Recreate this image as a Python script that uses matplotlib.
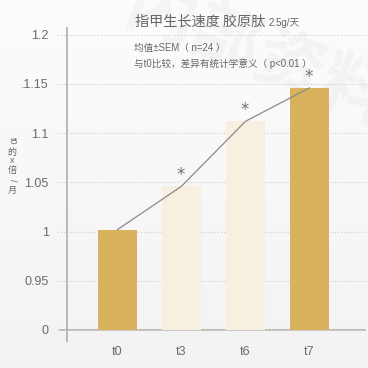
import numpy as np
import matplotlib
matplotlib.use("Agg")
import matplotlib.pyplot as plt

plt.rcParams['font.family'] = ['Liberation Sans', 'Noto Sans CJK SC', 'DejaVu Sans']

categories = ["t0", "t3", "t6", "t7"]
values = [1.002, 1.046, 1.112, 1.146]
bar_colors = ["#D8B25C", "#F7EFDF", "#F7EFDF", "#D8B25C"]
significant = [False, True, True, True]
ytick_values = [0, 0.95, 1.0, 1.05, 1.1, 1.15, 1.2]
ytick_labels = ["0", "0.95", "1", "1.05", "1.1", ".1.15", "1.2"]

title = "指甲生长速度 胶原肽"
title_unit = "2.5g/天"
note1 = "均值±SEM（ n=24 ）"
note2 = "与t0比较，差异有统计学意义（ p<0.01 ）"


def fwd(v):
    v = np.asarray(v, dtype=float)
    return np.where(v <= 0.95, v / 0.95, 1 + (v - 0.95) / 0.05)


def inv(p):
    p = np.asarray(p, dtype=float)
    return np.where(p <= 1, p * 0.95, 0.95 + (p - 1) * 0.05)


W = H = 368
fig = plt.figure(figsize=(3.68, 3.68), dpi=100)

# background gradient + faint watermark
bg = fig.add_axes([0, 0, 1, 1], zorder=-10)
grad = np.linspace(0, 1, 256).reshape(-1, 1)
bg.imshow(grad, aspect='auto', origin='upper', extent=[0, 1, 0, 1],
          cmap=matplotlib.colors.LinearSegmentedColormap.from_list('g', ['#fcfcfc', '#f3f3f3']))
bg.set_xlim(0, 1)
bg.set_ylim(0, 1)
bg.set_axis_off()
bg.text(0.70, 0.85, "内部资料", fontsize=50, rotation=-22, color='#000000', alpha=0.03,
        ha='center', va='center', family=['Noto Sans CJK SC'], fontweight='bold')

left_px, right_px, top_px, bot_px = 57, 366, 27, 342
ax = fig.add_axes([left_px / W, (H - bot_px) / H, (right_px - left_px) / W, (bot_px - top_px) / H])
ax.patch.set_alpha(0)
ax.set_yscale('function', functions=(fwd, inv))

x = np.arange(len(categories))
ax.bar(x, values, width=0.61, color=bar_colors, zorder=2)
ax.plot(x, values, color='#8a8a8a', lw=0.9, zorder=3)
for xi, v, s in zip(x, values, significant):
    if s:
        ax.annotate("*", (xi, v), xytext=(-0.5, 8), textcoords='offset points',
                    ha='center', va='center', fontsize=12, color='#707070',
                    family='DejaVu Sans', zorder=4)

ax.set_xlim((left_px - 117.5) / 64, (right_px - 117.5) / 64)
ax.set_ylim(-0.232, 1.2078)
ax.set_yticks(ytick_values)
ax.set_yticklabels(ytick_labels)
ax.set_xticks(x)
ax.set_xticklabels(categories)
ax.tick_params(axis='both', length=0, colors='#6a6a6a', labelsize=9)
ax.tick_params(axis='y', pad=6)
ax.tick_params(axis='x', pad=3)
for sp in ax.spines.values():
    sp.set_visible(False)
ax.yaxis.grid(True, linestyle=(0, (1.5, 1.5)), color='#d8d8d8', lw=0.8, zorder=0)
ax.axvline((66.7 - 117.5) / 64, color='#a8a8a8', lw=1.1, zorder=1)
ax.axhline(0, xmin=(59.5 - left_px) / (right_px - left_px), xmax=1, color='#a8a8a8', lw=1.1, zorder=1)

# title and notes
t = fig.text(135 / W, 1 - 21.5 / H, title, fontsize=10.2, color='#666666', va='center', ha='left',
             family=['Noto Sans CJK SC'])
fig.canvas.draw()
bb = t.get_window_extent()
fig.text((bb.x1 + 3) / W, 1 - 22.5 / H, title_unit, fontsize=7, color='#666666', va='center',
         ha='left', family=['Liberation Sans', 'Noto Sans CJK SC'])
fig.text(134 / W, 1 - 48 / H, note1, fontsize=6.9, color='#666666', va='center', ha='left',
         family=['Liberation Sans', 'Noto Sans CJK SC'])
fig.text(134 / W, 1 - 64 / H, note2, fontsize=6.9, color='#666666', va='center', ha='left',
         family=['Liberation Sans', 'Noto Sans CJK SC'])

# vertical y label (CJK upright, latin rotated)
ylab = [("t0", 141, 270), ("的", 152.5, 0), ("x", 160.5, 0), ("倍", 170.5, 0), ("/", 180, 270), ("月", 190, 0)]
for s, ypx, rot in ylab:
    fig.text(12 / W, 1 - ypx / H, s, fontsize=6.5, color='#666666', rotation=rot,
             ha='center', va='center', family=['Liberation Sans', 'Noto Sans CJK SC'])

fig.savefig("out.png", dpi=100)
